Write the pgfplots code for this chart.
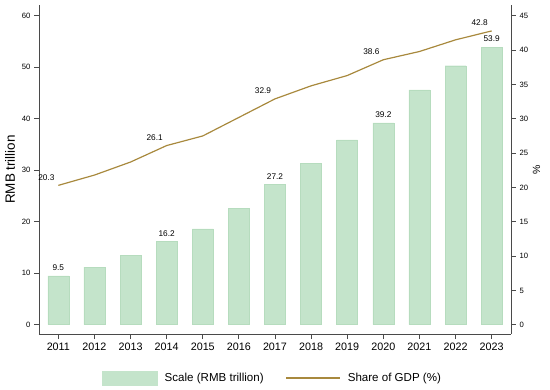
\documentclass[border=0pt]{standalone}
\usepackage{pgfplots}
\pgfplotsset{compat=1.18}
\usepackage{fontspec}
\setmainfont{Liberation Sans}
\definecolor{barc}{HTML}{C4E4CB}
\definecolor{bard}{HTML}{B6DCBE}
\definecolor{linec}{HTML}{A8893D}
\definecolor{axc}{HTML}{4A4A4A}
\begin{document}
\begin{tikzpicture}
\pgfplotsset{
  every axis/.append style={scale only axis, width=472bp, height=329bp,
    at={(0,0)}, anchor=south west,
    /pgf/number format/assume math mode=true,
    axis line style={axc, line width=0.8pt},
    tick style={axc, line width=0.8pt},
    major tick length=5bp, tick align=outside, clip=false,
    xmin=2010.465, xmax=2023.535},
}
\path[use as bounding box] (-39bp,-56bp) rectangle (511bp,334bp);
\begin{axis}[
  ymin=-1.8, ymax=62.1,
  axis y line*=left, axis x line*=bottom,
  xtick={2011,...,2023},
  xticklabel style={font=\fontsize{10.8}{12}\selectfont, /pgf/number format/1000 sep={}},
  ytick={0,10,...,60},
  yticklabel style={font=\fontsize{7.7}{9}\selectfont},
  ylabel={RMB trillion},
  ylabel style={font=\fontsize{13.5}{15}\selectfont, at={(axis description cs:-0.0614,0.5)}, anchor=center},
]
\addplot[ybar, bar width=21bp, fill=barc, draw=bard, line width=0.5pt] coordinates {
(2011,9.5) (2012,11.2) (2013,13.5) (2014,16.2) (2015,18.6) (2016,22.6) (2017,27.2)
(2018,31.4) (2019,35.9) (2020,39.2) (2021,45.6) (2022,50.3) (2023,53.9)};
\addplot[draw=none, mark=none, forget plot, nodes near coords, point meta=explicit symbolic,
  every node near coord/.style={font=\fontsize{8.3}{9}\selectfont, anchor=south, inner sep=0pt, yshift=5bp}]
coordinates {(2011,9.5) [9.5] (2014,16.2) [16.2] (2017,27.2) [27.2] (2020,39.2) [39.2] (2023,53.9) [53.9]};
\end{axis}
\begin{axis}[
  ymin=-1.35, ymax=46.575,
  axis y line*=right, hide x axis,
  ytick={0,5,...,45},
  yticklabel style={font=\fontsize{7.7}{9}\selectfont},
  ylabel={\%},
  ylabel style={font=\fontsize{10.5}{12}\selectfont, at={(axis description cs:1.054,0.5)}, anchor=center},
  legend columns=2,
  legend style={draw=none, fill=none, at={(axis description cs:0.495,0)}, anchor=center, yshift=-44bp,
    font=\fontsize{11.6}{13}\selectfont,
    /tikz/every odd column/.append style={column sep=5bp},
    /tikz/every even column/.append style={column sep=20bp}},
  legend cell align=left,
]
\addlegendimage{legend image code/.code={\fill[barc] (0bp,-7bp) rectangle (55bp,7bp);}}
\addlegendentry{Scale (RMB trillion)}
\addplot[linec, line width=1.2pt, mark=none,
  legend image code/.code={\draw[linec, line width=1.2pt] (0bp,0bp)--(54bp,0bp);}] coordinates {
(2011,20.3) (2012,21.8) (2013,23.7) (2014,26.1) (2015,27.5) (2016,30.2) (2017,32.9)
(2018,34.8) (2019,36.3) (2020,38.6) (2021,39.8) (2022,41.5) (2023,42.8)};
\addlegendentry{Share of GDP (\%)}
\addplot[draw=none, mark=none, forget plot, nodes near coords, point meta=explicit symbolic,
  every node near coord/.style={font=\fontsize{8.3}{9}\selectfont, anchor=center, inner sep=0pt, xshift=-12bp, yshift=8bp}]
coordinates {(2011,20.3) [20.3] (2014,26.1) [26.1] (2017,32.9) [32.9] (2020,38.6) [38.6] (2023,42.8) [42.8]};
\end{axis}
\end{tikzpicture}
\end{document}
